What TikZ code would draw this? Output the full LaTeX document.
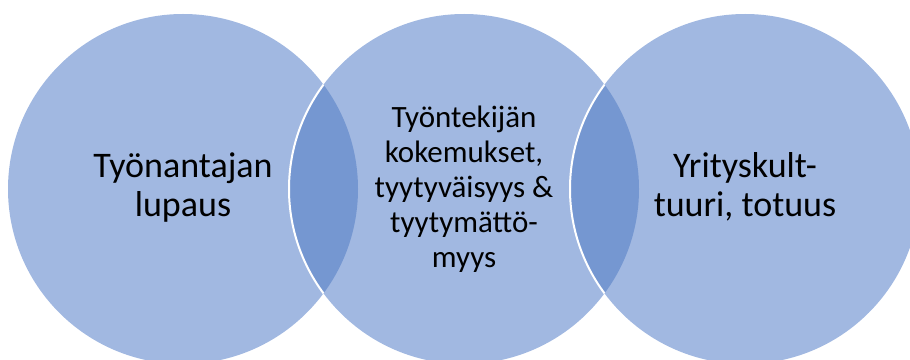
\documentclass[tikz,border=0pt]{standalone}
\usepackage{fontspec}
\setmainfont{Carlito}
\begin{document}
\begin{tikzpicture}[x=1pt,y=1pt,
  ring/.style={fill=vennfill},
  label/.style={align=center,inner sep=0pt,anchor=base,text=black},
  big/.style={font=\fontsize{36}{39}\selectfont},
  small/.style={font=\fontsize{31}{35}\selectfont}]
\definecolor{vennfill}{RGB}{161,184,225}
\definecolor{venndark}{RGB}{117,151,209}
\useasboundingbox (0,0) rectangle (910,359);
\clip (0,0) rectangle (910,359);
% the three sets
\coordinate (c1) at (183,170);
\coordinate (c2) at (464,170);
\coordinate (c3) at (745,170);
\fill[ring] (c1) circle (175);
\fill[ring] (c2) circle (175);
\fill[ring] (c3) circle (175);
% overlaps
\begin{scope}
  \clip (c1) circle (175);
  \fill[venndark] (c2) circle (175);
  \draw[white,line width=2] (c2) circle (175);
\end{scope}
\begin{scope}
  \clip (c2) circle (175);
  \fill[venndark] (c3) circle (175);
  \draw[white,line width=2] (c3) circle (175);
\end{scope}
% labels (anchored on the baseline of the last line)
\node[label,big] (t1) at (183,142) {Työnantajan\\lupaus};
\node[label,small] (t2) at (464,92) {Työntekijän\\kokemukset,\\tyytyväisyys \&\\tyytymättö-\\myys};
\node[label,big] (t3) at (745,142) {Yrityskult-\\tuuri, totuus};
\end{tikzpicture}
\end{document}
